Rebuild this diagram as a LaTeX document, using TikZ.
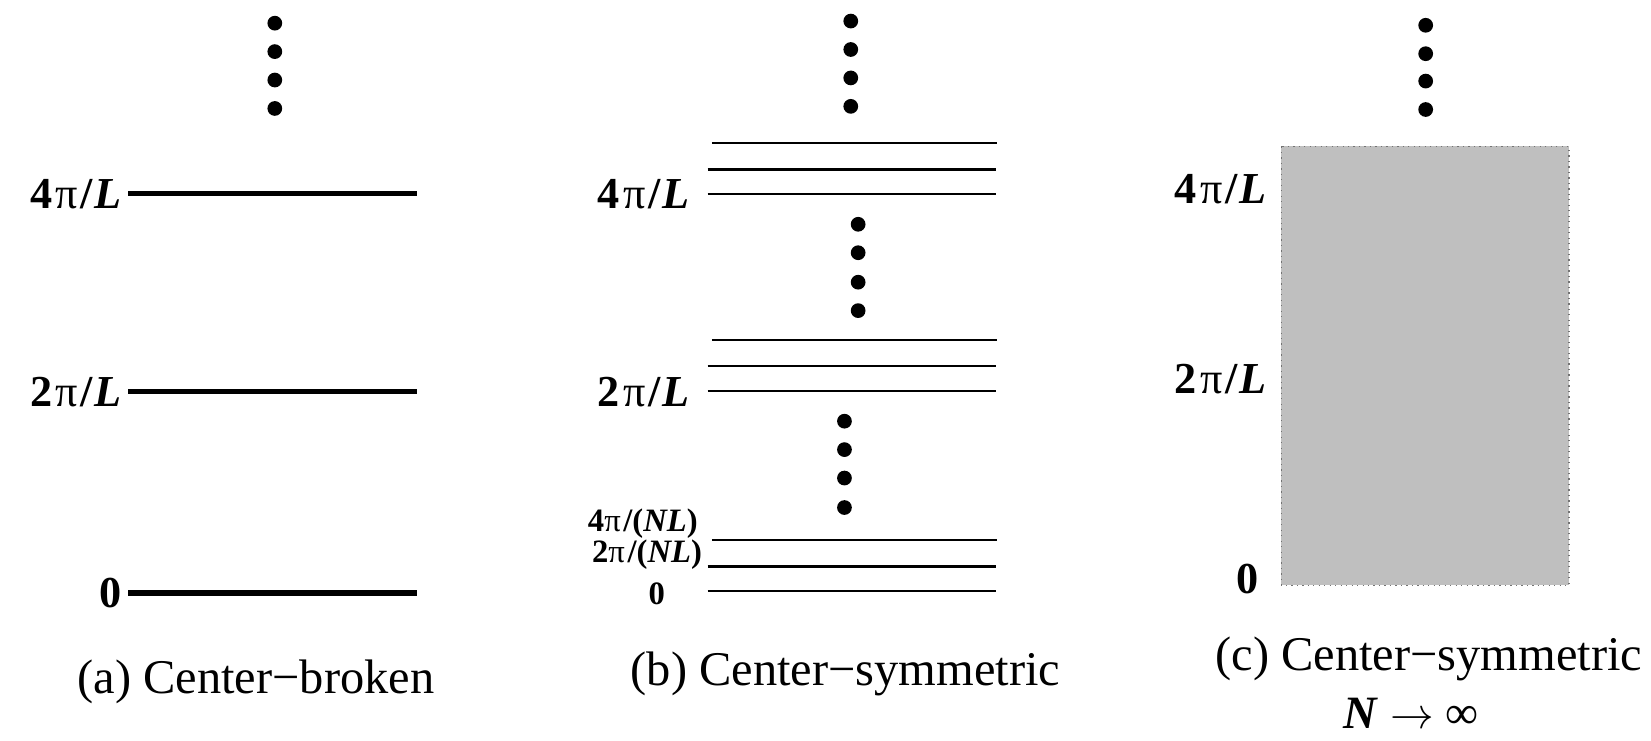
\documentclass[tikz,border=0pt]{standalone}
\usepackage{fontspec}
\setmainfont{Liberation Serif}
\begin{document}
\begin{tikzpicture}[
  x=0.5pt, y=-0.5pt,
  lvl/.style={draw=black, line width=2.6pt},
  thinlvl/.style={draw=black, line width=1pt},
  dotdot/.style={fill=black, draw=none},
  lab/.style={font=\fontsize{21}{24}\selectfont\bfseries, inner sep=0pt, anchor=east},
  smlab/.style={font=\fontsize{15.5}{17}\selectfont\bfseries, inner sep=0pt, anchor=east},
  capt/.style={font=\fontsize{23}{27}\selectfont, inner sep=0pt},
  band/.style={fill=black!25, draw=black!55, line width=0.6pt, dotted}
]
\newcommand{\kpi}[1]{#1\kern0.08em{\mdseries π}\kern0.06em/\kern0.04em\textit{L}}
\useasboundingbox (0,0) rectangle (1568,703);

% (a) center-broken
\begin{scope}
  \foreach \y/\name/\txt in {184/fourA/\kpi{4},372/twoA/\kpi{2},563/zeroA/0} {
    \node[lab] (\name) at (116,\y) {\txt};
    \draw[lvl] (122,\y) -- (396,\y);
  }
  \foreach \y in {22,49,76,103}
    \fill[dotdot] (261,\y) circle (7);
  \node[capt] (capA) at (243,648) {(a) Center−broken};
\end{scope}

% (b) center-symmetric
\begin{scope}
  \foreach \y in {136,323,513}
    \draw[thinlvl] (676,\y) -- (947,\y);
  \foreach \y in {161,184,348,371,538,561}
    \draw[thinlvl] (672,\y) -- (946,\y);
  \node[lab] (fourB) at (655,184) {\kpi{4}};
  \node[lab] (twoB) at (655,372) {\kpi{2}};
  \node[smlab] (fourNL) at (663,497) {4{\mdseries π}\kern0.08em/(\textit{NL})};
  \node[smlab] (twoNL) at (667,527) {2{\mdseries π}\kern0.08em/(\textit{NL})};
  \node[smlab] (zeroB) at (632,564) {0};
  \foreach \x/\y in {808/20,808/47,808/74,808/101,
                     815/213,815/240,815/268,815/295,
                     802/400,802/427,802/454,802/482}
    \fill[dotdot] (\x,\y) circle (7);
  \node[capt] (capB) at (803,640) {(b) Center−symmetric};
\end{scope}

% (c) N -> infinity
\begin{scope}
  \draw[band] (1217,139) rectangle (1490,556);
  \foreach \y in {24,51,77,104}
    \fill[dotdot] (1354,\y) circle (7);
  \node[lab] (fourC) at (1203,180) {\kpi{4}};
  \node[lab] (twoC) at (1203,360) {\kpi{2}};
  \node[lab] (zeroC) at (1196,550) {0};
  \node[capt] (capC) at (1357,626) {(c) Center−symmetric};
  \node[capt, font=\fontsize{22}{24}\selectfont] (limC) at (1340,677) {\textbf{\textit{N}} $\rightarrow$ ∞};
\end{scope}
\end{tikzpicture}
\end{document}
